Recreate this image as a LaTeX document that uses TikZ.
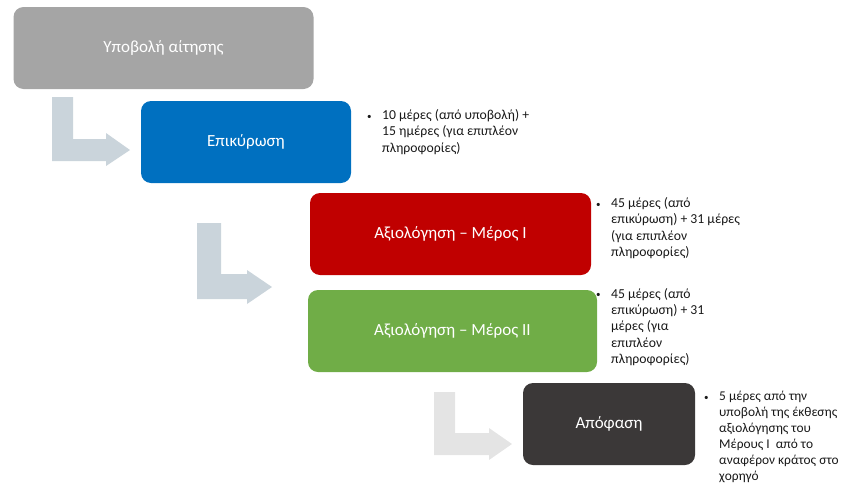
\documentclass[tikz,border=0pt]{standalone}
\usepackage{fontspec}
\setmainfont{Carlito}
\definecolor{cgray}{HTML}{A5A5A5}
\definecolor{cblue}{HTML}{0070C0}
\definecolor{cred}{HTML}{C00000}
\definecolor{cgreen}{HTML}{70AD47}
\definecolor{cdark}{HTML}{3B3838}
\definecolor{carrow}{HTML}{CAD4DB}
\definecolor{carrowl}{HTML}{E4E4E4}
\tikzset{
  stepbox/.style={rounded corners=10pt, minimum width=#1, minimum height=82pt, inner sep=0pt,
    text=white, font=\fontsize{17}{20}\selectfont},
  notebox/.style={anchor=base west, inner sep=0pt, font=\fontsize{13.7}{16.4}\selectfont, text=black!90},
  tightnote/.style={notebox, font=\fontsize{13.4}{15.9}\selectfont},
  bentarrow/.style={fill=#1, draw=none}
}
\newcommand{\notelines}[1]{\begin{tabular}[t]{@{}p{15pt}@{}l@{}}\raisebox{0.5pt}{\small•}&#1\end{tabular}}
\begin{document}
\begin{tikzpicture}[x=1pt,y=-1pt]
\useasboundingbox (0,0) rectangle (843,482);
% bent arrows
\fill[bentarrow=carrow] (52,97) -- (73,97) -- (73,139) -- (106,139) -- (106,133) -- (130,150) -- (106,166) -- (106,161) -- (52,161) -- cycle;
\fill[bentarrow=carrow] (197,223) -- (221,223) -- (221,274) -- (247,274) -- (247,270) -- (272,287) -- (247,304) -- (247,299) -- (197,299) -- cycle;
\fill[bentarrow=carrowl] (434,392) -- (455,392) -- (455,433) -- (489,433) -- (489,428) -- (512,444) -- (489,460) -- (489,455) -- (434,455) -- cycle;
% boxes
\node[stepbox=300pt, fill=cgray] (s1) at (163.5,48) {Υποβολή αίτησης};
\node[stepbox=210pt, fill=cblue] (s2) at (246,142) {Επικύρωση};
\node[stepbox=281pt, fill=cred] (s3) at (450.5,234) {Αξιολόγηση – Μέρος Ι};
\node[stepbox=289pt, fill=cgreen] (s4) at (452.5,331) {Αξιολόγηση – Μέρος ΙΙ};
\node[stepbox=172pt, fill=cdark] (s5) at (609,424) {Απόφαση};
% notes
\node[notebox] (n1) at (367,119.5) {\notelines{10 μέρες (από υποβολή) +\\&15 ημέρες (για επιπλέον\\&πληροφορίες)}};
\node[notebox] (n2) at (596,207.5) {\notelines{45 μέρες (από\\&επικύρωση) + 31 μέρες\\&(για επιπλέον\\&πληροφορίες)}};
\node[notebox] (n3) at (596,298) {\notelines{45 μέρες (από\\&επικύρωση) + 31\\&μέρες (για\\&επιπλέον\\&πληροφορίες)}};
\node[tightnote] (n4) at (704,400.5) {\notelines{5 μέρες από την\\&υποβολή της έκθεσης\\&αξιολόγησης του\\&Μέρους Ι~ από το\\&αναφέρον κράτος στο\\&χορηγό}};
\end{tikzpicture}
\end{document}
